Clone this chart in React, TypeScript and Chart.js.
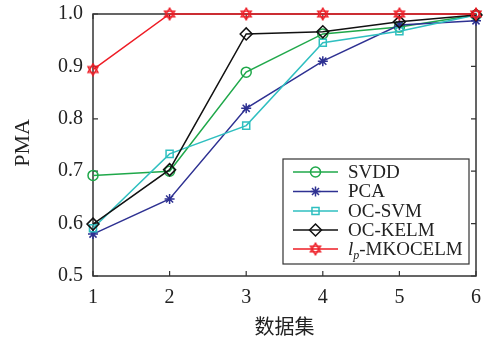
import React, { useEffect, useRef } from "react";
import { Chart, registerables } from "chart.js";

Chart.register(...registerables);

const categories = [1, 2, 3, 4, 5, 6];
const svdd = [0.692, 0.700, 0.889, 0.962, 0.975, 0.998];
const pca = [0.580, 0.647, 0.820, 0.910, 0.979, 0.987];
const ocsvm = [0.591, 0.733, 0.787, 0.945, 0.967, 0.998];
const ockelm = [0.599, 0.703, 0.962, 0.966, 0.985, 0.998];
const lpmk = [0.894, 1.0, 1.0, 1.0, 1.0, 1.0];
const yTicks = [0.5, 0.6, 0.7, 0.8, 0.9, 1.0];
const seriesNames = ["SVDD", "PCA", "OC-SVM", "OC-KELM", "lp-MKOCELM"];

const GREEN = "#1fa84a";
const BLUE = "#2e3192";
const CYAN = "#2fbfc0";
const BLACK = "#111111";
const RED = "#ee1c25";

function makeHexagram(size: number, color: string) {
  const c = document.createElement("canvas");
  c.width = size;
  c.height = size;
  const ctx = c.getContext("2d")!;
  const cx = size / 2, cy = size / 2, r = size / 2 - 1.2;
  ctx.strokeStyle = color;
  ctx.lineWidth = 1.4;
  for (let t = 0; t < 2; t++) {
    ctx.beginPath();
    for (let i = 0; i < 3; i++) {
      const a = -Math.PI / 2 + t * Math.PI + (i * 2 * Math.PI) / 3;
      const px = cx + r * Math.cos(a), py = cy + r * Math.sin(a);
      if (i === 0) ctx.moveTo(px, py); else ctx.lineTo(px, py);
    }
    ctx.closePath();
    ctx.stroke();
  }
  return c;
}

export default function App() {
  const ref = useRef<HTMLCanvasElement | null>(null);
  useEffect(() => {
    if (!ref.current) return;
    const hex = makeHexagram(14, RED);
    const toPts = (arr: number[]) => arr.map((v, i) => ({ x: categories[i], y: v }));
    const styles = [
      { color: GREEN, pointStyle: "circle" as any, radius: 5 },
      { color: BLUE, pointStyle: "star" as any, radius: 5 },
      { color: CYAN, pointStyle: "rect" as any, radius: 5 },
      { color: BLACK, pointStyle: "rectRot" as any, radius: 6 },
      { color: RED, pointStyle: hex as any, radius: 7 },
    ];
    const data = [svdd, pca, ocsvm, ockelm, lpmk];

    const boxPlugin = {
      id: "boxPlugin",
      beforeDatasetsDraw(chart: any) {
        const { ctx, chartArea: a, scales } = chart;
        ctx.save();
        ctx.strokeStyle = "#333";
        ctx.lineWidth = 1.5;
        ctx.strokeRect(a.left, a.top, a.right - a.left, a.bottom - a.top);
        ctx.lineWidth = 1.2;
        ctx.beginPath();
        for (const v of categories) {
          const x = scales.x.getPixelForValue(v);
          ctx.moveTo(x, a.bottom); ctx.lineTo(x, a.bottom - 5);
          ctx.moveTo(x, a.top); ctx.lineTo(x, a.top + 5);
        }
        for (const v of yTicks) {
          const y = scales.y.getPixelForValue(v);
          ctx.moveTo(a.left, y); ctx.lineTo(a.left + 5, y);
          ctx.moveTo(a.right, y); ctx.lineTo(a.right - 5, y);
        }
        ctx.stroke();
        ctx.fillStyle = "#222";
        ctx.textAlign = "center";
        ctx.textBaseline = "middle";
        ctx.font = '20px "Noto Sans CJK SC"';
        ctx.fillText("数据集", (a.left + a.right) / 2, 326);
        ctx.translate(23, 143);
        ctx.rotate(-Math.PI / 2);
        ctx.font = '22px "Liberation Serif"';
        ctx.fillText("PMA", 0, 0);
        ctx.restore();
      },
      afterDraw(chart: any) {
        const { ctx } = chart;
        ctx.save();
        const bx = 283, by = 159, bw = 186, bh = 105;
        ctx.fillStyle = "#fff";
        ctx.fillRect(bx, by, bw, bh);
        ctx.strokeStyle = "#333";
        ctx.lineWidth = 1.2;
        ctx.strokeRect(bx, by, bw, bh);
        const rows = [172, 191.5, 211, 230, 249];
        styles.forEach((s, i) => {
          const y = rows[i];
          ctx.strokeStyle = s.color;
          ctx.lineWidth = 1.5;
          ctx.beginPath();
          ctx.moveTo(293, y); ctx.lineTo(338, y);
          ctx.stroke();
          const meta = chart.getDatasetMeta(i);
          const pt = meta.data[0];
          const ox = pt.x, oy = pt.y;
          pt.x = 315.5; pt.y = y;
          pt.draw(ctx, undefined);
          pt.x = ox; pt.y = oy;
          ctx.fillStyle = "#222";
          ctx.textBaseline = "middle";
          ctx.textAlign = "left";
          if (i < 4) {
            ctx.font = '19px "Liberation Serif"';
            ctx.fillText(seriesNames[i], 348, y + 1);
          } else {
            ctx.font = 'italic 19px "Liberation Serif"';
            ctx.fillText("l", 348, y + 1);
            const lw = ctx.measureText("l").width;
            ctx.font = 'italic 12px "Liberation Serif"';
            ctx.fillText("p", 348 + lw, y + 7);
            const pw = ctx.measureText("p").width;
            ctx.font = '19px "Liberation Serif"';
            ctx.fillText("-MKOCELM", 348 + lw + pw, y + 1);
          }
        });
        ctx.restore();
      },
    };

    const zeroPad = (s: any) => {
      s.paddingTop = 0; s.paddingBottom = 0; s.paddingLeft = 0; s.paddingRight = 0;
    };

    const chart = new Chart(ref.current, {
      type: "line",
      data: {
        datasets: data.map((d, i) => ({
          label: seriesNames[i],
          data: toPts(d),
          borderColor: styles[i].color,
          backgroundColor: "transparent",
          pointBorderColor: styles[i].color,
          pointBackgroundColor: "rgba(255,255,255,0)",
          pointStyle: styles[i].pointStyle,
          pointRadius: styles[i].radius,
          pointBorderWidth: 1.5,
          borderWidth: 1.5,
          tension: 0,
          clip: false as any,
          order: 4 - i,
        })),
      },
      options: {
        animation: false,
        responsive: true,
        maintainAspectRatio: false,
        layout: { padding: { left: 0, top: 14, right: 10, bottom: 0 } },
        plugins: { legend: { display: false }, tooltip: { enabled: false } },
        scales: {
          x: {
            type: "linear",
            min: 1,
            max: 6,
            grid: { display: false, drawTicks: false },
            border: { display: false },
            ticks: {
              stepSize: 1,
              padding: 10,
              color: "#222",
              font: { family: "Liberation Serif", size: 20 },
              callback: (v: any) => String(v),
            },
            afterFit: (s: any) => { s.height = 64; zeroPad(s); },
          },
          y: {
            type: "linear",
            min: 0.5,
            max: 1.0,
            grid: { display: false, drawTicks: false },
            border: { display: false },
            ticks: {
              stepSize: 0.1,
              padding: 10,
              color: "#222",
              font: { family: "Liberation Serif", size: 20 },
              callback: (v: any) => Number(v).toFixed(1),
            },
            afterFit: (s: any) => { s.width = 93; zeroPad(s); },
          },
        },
      },
      plugins: [boxPlugin],
    });
    return () => chart.destroy();
  }, []);
  return (
    <div style={{ position: "absolute", left: 0, top: 0, width: 486, height: 340, background: "#fff" }}>
      <canvas ref={ref} />
    </div>
  );
}
